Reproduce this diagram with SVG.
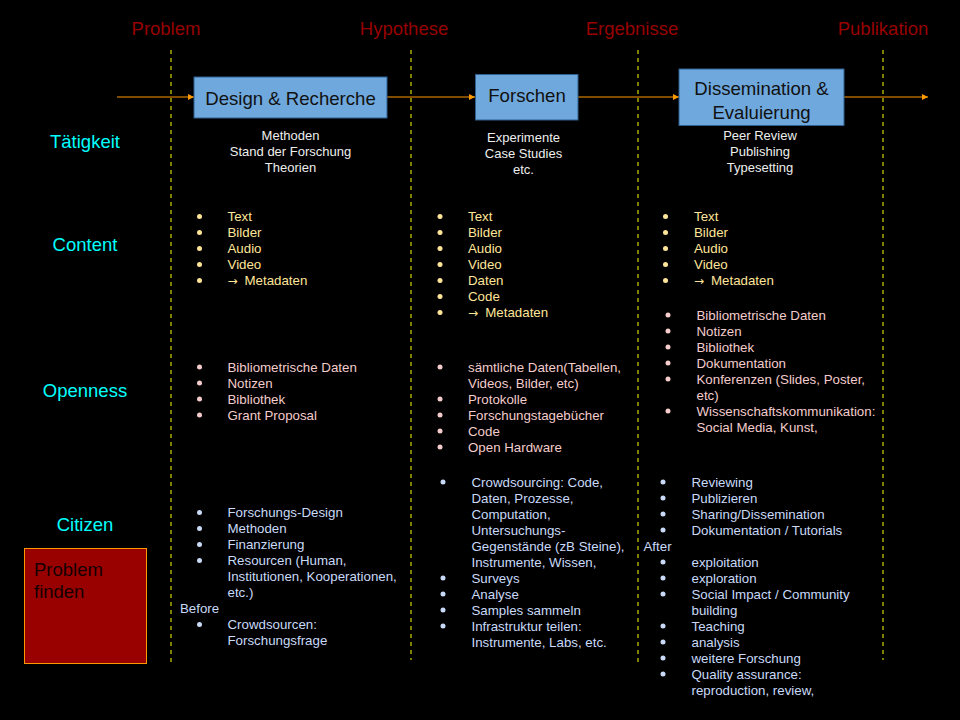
<svg xmlns="http://www.w3.org/2000/svg" width="960" height="720" viewBox="0 0 960 720">
<defs>
<marker id="ah" viewBox="0 0 10 10" refX="10" refY="5" markerWidth="6" markerHeight="6" markerUnits="userSpaceOnUse" orient="auto"><path d="M0,0 L10,5 L0,10 z" fill="#ff9900"/></marker>
<style>
text{font-family:"Liberation Sans",Arial,sans-serif}
.ph{font-size:18.5px;fill:#990000;text-anchor:middle}
.row{font-size:18.5px;fill:#00ffff;text-anchor:middle}
.box{fill:#6fa8dc;stroke:#2f5f8f;stroke-width:1}
.bt{font-size:18.6px;fill:#111;text-anchor:middle}
.dash{stroke:#ffff00;stroke-width:1;stroke-dasharray:4,4;fill:none}
.conn{stroke:#ff9900;stroke-width:1.2;fill:none}
.t{font-size:13px;fill:#eeeeee;text-anchor:middle}
.c{font-size:13.3px;fill:#ffe599}
.o{font-size:13.3px;fill:#f4cccc}
.z{font-size:13.3px;fill:#c9daf8}
.ar{font-family:"DejaVu Sans",sans-serif;font-size:12px}
.cb{fill:#ffe599}
.ob{fill:#f4cccc}
.zb{fill:#c9daf8}
</style>
</defs>
<rect width="960" height="720" fill="#000"/>

<g id="phases">
<text class="ph" x="166" y="35">Problem</text>
<text class="ph" x="404" y="35">Hypothese</text>
<text class="ph" x="632" y="35">Ergebnisse</text>
<text class="ph" x="883" y="35">Publikation</text>
<line class="dash" x1="171" y1="50" x2="171" y2="662"/>
<line class="dash" x1="411" y1="50" x2="411" y2="660"/>
<line class="dash" x1="638" y1="50" x2="638" y2="664"/>
<line class="dash" x1="883" y1="50" x2="883" y2="660"/>
</g>

<g id="connectors">
<line class="conn" x1="117" y1="97" x2="194" y2="97" marker-end="url(#ah)"/>
<line class="conn" x1="387" y1="97" x2="475" y2="97" marker-end="url(#ah)"/>
<line class="conn" x1="578" y1="97" x2="679" y2="97" marker-end="url(#ah)"/>
<line class="conn" x1="844" y1="97" x2="928" y2="97" marker-end="url(#ah)"/>
</g>

<g id="design">
<rect class="box" x="194" y="77" width="193" height="41"/>
<text class="bt" x="290.5" y="104.5">Design &amp; Recherche</text>
</g>
<g id="forschen">
<rect class="box" x="475.5" y="74.5" width="102.5" height="45.5"/>
<text class="bt" x="527" y="102">Forschen</text>
</g>
<g id="dissemination">
<rect class="box" x="679" y="69" width="165" height="56.5"/>
<text class="bt" x="761.5" y="95">Dissemination &amp;</text>
<text class="bt" x="761.5" y="119">Evaluierung</text>
</g>

<g id="rowlabels">
<text class="row" x="85" y="148">Tätigkeit</text>
<text class="row" x="85" y="251">Content</text>
<text class="row" x="85" y="397">Openness</text>
<text class="row" x="85" y="531">Citizen</text>
</g>

<g id="problem-finden">
<rect x="24.5" y="548.5" width="122" height="115" fill="#990000" stroke="#ff9900" stroke-width="1"/>
<text x="34" y="576" font-size="18.5" fill="#140000">Problem</text>
<text x="34" y="598" font-size="18.5" fill="#140000">finden</text>
</g>

<g id="taetigkeit">
<text class="t" x="290.5" y="140">Methoden</text>
<text class="t" x="290.5" y="156">Stand der Forschung</text>
<text class="t" x="290.5" y="172">Theorien</text>
<text class="t" x="523.5" y="142">Experimente</text>
<text class="t" x="523.5" y="158">Case Studies</text>
<text class="t" x="523.5" y="174">etc.</text>
<text class="t" x="760" y="140">Peer Review</text>
<text class="t" x="760" y="156">Publishing</text>
<text class="t" x="760" y="172">Typesetting</text>
</g>

<g id="content">
<g class="cb">
<circle cx="199.5" cy="216.5" r="2.5"/><circle cx="199.5" cy="232.5" r="2.5"/><circle cx="199.5" cy="248.5" r="2.5"/><circle cx="199.5" cy="264.5" r="2.5"/><circle cx="199.5" cy="280.5" r="2.5"/>
<circle cx="440" cy="216.5" r="2.5"/><circle cx="440" cy="232.5" r="2.5"/><circle cx="440" cy="248.5" r="2.5"/><circle cx="440" cy="264.5" r="2.5"/><circle cx="440" cy="280.5" r="2.5"/><circle cx="440" cy="296.5" r="2.5"/><circle cx="440" cy="312.5" r="2.5"/>
<circle cx="665.5" cy="216.5" r="2.5"/><circle cx="665.5" cy="232.5" r="2.5"/><circle cx="665.5" cy="248.5" r="2.5"/><circle cx="665.5" cy="264.5" r="2.5"/><circle cx="665.5" cy="280.5" r="2.5"/>
</g>
<text class="c" x="227.5" y="221">Text</text>
<text class="c" x="227.5" y="237">Bilder</text>
<text class="c" x="227.5" y="253">Audio</text>
<text class="c" x="227.5" y="269">Video</text>
<text class="c" x="227.5" y="285"><tspan class="ar">→</tspan><tspan x="244.5">Metadaten</tspan></text>
<text class="c" x="468" y="221">Text</text>
<text class="c" x="468" y="237">Bilder</text>
<text class="c" x="468" y="253">Audio</text>
<text class="c" x="468" y="269">Video</text>
<text class="c" x="468" y="285">Daten</text>
<text class="c" x="468" y="301">Code</text>
<text class="c" x="468" y="317"><tspan class="ar">→</tspan><tspan x="485.3">Metadaten</tspan></text>
<text class="c" x="694" y="221">Text</text>
<text class="c" x="694" y="237">Bilder</text>
<text class="c" x="694" y="253">Audio</text>
<text class="c" x="694" y="269">Video</text>
<text class="c" x="694" y="285"><tspan class="ar">→</tspan><tspan x="711">Metadaten</tspan></text>
</g>

<g id="openness">
<g class="ob">
<circle cx="199.5" cy="367" r="2.5"/><circle cx="199.5" cy="383" r="2.5"/><circle cx="199.5" cy="399" r="2.5"/><circle cx="199.5" cy="415" r="2.5"/>
<circle cx="440" cy="367" r="2.5"/><circle cx="440" cy="399" r="2.5"/><circle cx="440" cy="415" r="2.5"/><circle cx="440" cy="431" r="2.5"/><circle cx="440" cy="447" r="2.5"/>
<circle cx="668" cy="315" r="2.5"/><circle cx="668" cy="331" r="2.5"/><circle cx="668" cy="347" r="2.5"/><circle cx="668" cy="363" r="2.5"/><circle cx="668" cy="379" r="2.5"/><circle cx="668" cy="411" r="2.5"/>
</g>
<text class="o" x="227.5" y="371.5">Bibliometrische Daten</text>
<text class="o" x="227.5" y="387.5">Notizen</text>
<text class="o" x="227.5" y="403.5">Bibliothek</text>
<text class="o" x="227.5" y="419.5">Grant Proposal</text>
<text class="o" x="468" y="371.5">sämtliche Daten(Tabellen,</text>
<text class="o" x="468" y="387.5">Videos, Bilder, etc)</text>
<text class="o" x="468" y="403.5">Protokolle</text>
<text class="o" x="468" y="419.5">Forschungstagebücher</text>
<text class="o" x="468" y="435.5">Code</text>
<text class="o" x="468" y="451.5">Open Hardware</text>
<text class="o" x="696.5" y="319.5">Bibliometrische Daten</text>
<text class="o" x="696.5" y="335.5">Notizen</text>
<text class="o" x="696.5" y="351.5">Bibliothek</text>
<text class="o" x="696.5" y="367.5">Dokumentation</text>
<text class="o" x="696.5" y="383.5">Konferenzen (Slides, Poster,</text>
<text class="o" x="696.5" y="399.5">etc)</text>
<text class="o" x="696.5" y="415.5">Wissenschaftskommunikation:</text>
<text class="o" x="696.5" y="431.5">Social Media, Kunst,</text>
</g>

<g id="citizen">
<g class="zb">
<circle cx="199.5" cy="512.5" r="2.5"/><circle cx="199.5" cy="528.5" r="2.5"/><circle cx="199.5" cy="544.5" r="2.5"/><circle cx="199.5" cy="560.5" r="2.5"/><circle cx="199.5" cy="624.5" r="2.5"/>
<circle cx="443" cy="482" r="2.5"/><circle cx="443" cy="578" r="2.5"/><circle cx="443" cy="594" r="2.5"/><circle cx="443" cy="610" r="2.5"/><circle cx="443" cy="626" r="2.5"/>
<circle cx="663" cy="482" r="2.5"/><circle cx="663" cy="498" r="2.5"/><circle cx="663" cy="514" r="2.5"/><circle cx="663" cy="530" r="2.5"/><circle cx="663" cy="562" r="2.5"/><circle cx="663" cy="578" r="2.5"/><circle cx="663" cy="594" r="2.5"/><circle cx="663" cy="626" r="2.5"/><circle cx="663" cy="642" r="2.5"/><circle cx="663" cy="658" r="2.5"/><circle cx="663" cy="674" r="2.5"/>
</g>
<text class="z" x="227.5" y="517">Forschungs-Design</text>
<text class="z" x="227.5" y="533">Methoden</text>
<text class="z" x="227.5" y="549">Finanzierung</text>
<text class="z" x="227.5" y="565">Resourcen (Human,</text>
<text class="z" x="227.5" y="581">Institutionen, Kooperationen,</text>
<text class="z" x="227.5" y="597">etc.)</text>
<text class="z" x="180" y="613">Before</text>
<text class="z" x="227.5" y="629">Crowdsourcen:</text>
<text class="z" x="227.5" y="645">Forschungsfrage</text>
<text class="z" x="471.5" y="486.5">Crowdsourcing: Code,</text>
<text class="z" x="471.5" y="502.5">Daten, Prozesse,</text>
<text class="z" x="471.5" y="518.5">Computation,</text>
<text class="z" x="471.5" y="534.5">Untersuchungs-</text>
<text class="z" x="471.5" y="550.5">Gegenstände (zB Steine),</text>
<text class="z" x="471.5" y="566.5">Instrumente, Wissen,</text>
<text class="z" x="471.5" y="582.5">Surveys</text>
<text class="z" x="471.5" y="598.5">Analyse</text>
<text class="z" x="471.5" y="614.5">Samples sammeln</text>
<text class="z" x="471.5" y="630.5">Infrastruktur teilen:</text>
<text class="z" x="471.5" y="646.5">Instrumente, Labs, etc.</text>
<text class="z" x="691.5" y="486.5">Reviewing</text>
<text class="z" x="691.5" y="502.5">Publizieren</text>
<text class="z" x="691.5" y="518.5">Sharing/Dissemination</text>
<text class="z" x="691.5" y="534.5">Dokumentation / Tutorials</text>
<text class="z" x="643.5" y="550.5">After</text>
<text class="z" x="691.5" y="566.5">exploitation</text>
<text class="z" x="691.5" y="582.5">exploration</text>
<text class="z" x="691.5" y="598.5">Social Impact / Community</text>
<text class="z" x="691.5" y="614.5">building</text>
<text class="z" x="691.5" y="630.5">Teaching</text>
<text class="z" x="691.5" y="646.5">analysis</text>
<text class="z" x="691.5" y="662.5">weitere Forschung</text>
<text class="z" x="691.5" y="678.5">Quality assurance:</text>
<text class="z" x="691.5" y="694.5">reproduction, review,</text>
</g>
</svg>
